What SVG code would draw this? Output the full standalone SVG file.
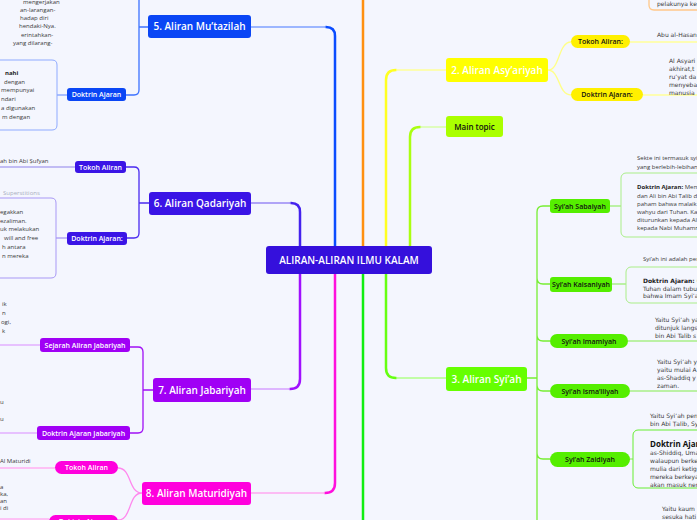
<svg xmlns="http://www.w3.org/2000/svg" width="697" height="520" viewBox="0 0 697 520">
<style>
.t{font-family:"Open Sans","Noto Sans",sans-serif;font-weight:600;fill:#fff;text-anchor:middle}
.h{font-size:10px}
.s{font-size:7px}
.k{fill:#111}
.b{font-family:"Open Sans","Noto Sans",sans-serif;font-size:6px;fill:#3a3a3a}
.v{font-family:"DejaVu Sans","Noto Sans",sans-serif;font-size:6px;fill:#3a3a3a}
.bb{font-weight:700;fill:#222}
.m{fill:none;stroke-width:2.5;stroke-linecap:round}
.c{fill:none;stroke-width:1.3}
.box{fill:none;stroke-width:1}
</style>
<rect width="697" height="520" fill="#f4f6fe"/>
<g id="connectors">
<path class="m" d="M300,246 V212 Q300,203 291,203" stroke="#4422ee"/>
<path class="c" d="M291,203 H251" stroke="#9a88f5"/>
<path class="m" d="M335,246 V36 Q335,27 326,27" stroke="#0a4cff"/>
<path class="c" d="M326,27 H251" stroke="#7fa0ff"/>
<path class="m" d="M363,246 V0" stroke="#ff9010"/>
<path class="m" d="M386,246 V80 Q386,70 396,70" stroke="#ffff22"/>
<path class="c" d="M396,70 H446" stroke="#ffff99"/>
<path class="m" d="M410,246 V137 Q410,127 420,127" stroke="#aaff11"/>
<path class="c" d="M420,127 H446" stroke="#d4ff99"/>
<path class="m" d="M300,274 V379 Q300,389 290,389" stroke="#a010ff"/>
<path class="c" d="M290,389 H251" stroke="#d7a0ff"/>
<path class="m" d="M335,274 V483 Q335,493 325,493" stroke="#ff10dd"/>
<path class="c" d="M325,493 H251" stroke="#ffa8f0"/>
<path class="m" d="M363,274 V520" stroke="#11ee11"/>
<path class="m" d="M386,274 V368 Q386,378 396,378" stroke="#66ff11"/>
<path class="c" d="M396,378 H446" stroke="#b0ff88"/>
<!-- node 5 children -->
<path class="c" d="M148,27 H139 M139,0 V90 Q139,95 134,95 H126" stroke="#3c72ff"/>
<path class="c" d="M67,95 H57" stroke="#7fa0ff"/>
<!-- node 6 -->
<path class="c" d="M149,203 H139 M126,167 H134 Q139,167 139,172 V233 Q139,238 134,238 H127" stroke="#4a2af0"/>
<path class="c" d="M75,167 H0" stroke="#b0a8f0"/>
<path class="c" d="M67,238 H56" stroke="#a898f5"/>
<!-- node 7 -->
<path class="c" d="M153,390 H143 M130,347 H138 Q143,347 143,352 V428 Q143,433 138,433 H130" stroke="#a010f5"/>
<path class="c" d="M40,345 H0 M37,433 H0" stroke="#e2b0ff"/>
<!-- node 8 -->
<path class="c" d="M142,493 C128,493 132,468 118,468 M142,493 C128,493 132,520 118,520" stroke="#ff88ee"/>
<path class="c" d="M55,468 H0 M49,519 H0" stroke="#ffb0f2"/>
<!-- node 2 -->
<path class="c" d="M548,70 C560,70 558,42 571,42 M548,70 C560,70 558,95 571,95" stroke="#ffff88"/>
<path class="c" d="M630,42 H697 M643,95 H697" stroke="#ffff99"/>
<!-- node 3 -->
<path class="c" d="M527,378 H537 M550,206 H543 Q537,206 537,212 V520 M537,278 Q537,284 543,284 H550 M537,335 Q537,341 543,341 H550 M537,385 Q537,391 543,391 H550 M537,453 Q537,459 543,459 H550" stroke="#77ee33"/>
<path class="c" d="M610,206 H621 M612,284 H626 M628,341 H697 M630,391 H697 M630,459 H633" stroke="#a8f088"/>
<path class="c" d="M649,0 V5 Q649,10 654,10 H697" stroke="#ffc88a"/>
</g>
<g id="n1text"><text class="v" x="657" y="6">pelakunya ke</text></g>
<g id="central"><rect x="266" y="246" width="166" height="28" rx="3" fill="#3510dc"/><text class="t h" x="349" y="263.5" font-weight="700">ALIRAN-ALIRAN ILMU KALAM</text></g>
<g id="n5"><rect x="148" y="15" width="103" height="23" rx="3" fill="#0a46f5"/><text class="t h" x="199.5" y="30">5. Aliran Mu’tazilah</text></g>
<g id="n5-doktrin"><rect x="67" y="88" width="59" height="13" rx="3" fill="#0a46f5"/><text class="t s" x="96.5" y="97">Doktrin Ajaran</text></g>
<g id="n5-text">
<text class="b" x="23" y="4">mengerjakan</text>
<text class="b" x="20" y="12">an-larangan-</text>
<text class="b" x="20" y="20">hadap diri</text>
<text class="b" x="19" y="28">hendaki-Nya.</text>
<text class="b" x="21" y="37">erintahkan-</text>
<text class="b" x="13" y="45">yang dilarang-</text>
</g>
<g id="n5-box">
<path class="box" d="M0,60 H52 Q57,60 57,65 V125 Q57,130 52,130 H0" stroke="#8eaaff"/>
<text class="b bb" x="5" y="75">nahi</text>
<text class="b" x="4" y="84">dengan</text>
<text class="b" x="1" y="92">mempunyai</text>
<text class="b" x="1" y="101">ndari</text>
<text class="b" x="1" y="110">a digunakan</text>
<text class="b" x="2" y="119">m dengan</text>
</g>
<g id="n6"><rect x="149" y="192" width="102" height="23" rx="3" fill="#3a14e6"/><text class="t h" x="200" y="207">6. Aliran Qadariyah</text></g>
<g id="n6-tokoh"><rect x="75" y="161" width="51" height="12" rx="3" fill="#3a14e6"/><text class="t s" x="100.5" y="169.5">Tokoh Aliran</text><text class="b" x="0" y="163">ah bin Abi Ṣufyan</text></g>
<g id="n6-doktrin"><rect x="67" y="232" width="60" height="13" rx="3" fill="#3a14e6"/><text class="t s" x="97" y="241">Doktrin Ajaran:</text></g>
<g id="n6-box">
<text class="b" x="3" y="195" fill="#aab0c0" style="fill:#a8aec0">Superstitions</text>
<path class="box" d="M0,198 H51 Q56,198 56,203 V273 Q56,278 51,278 H0" stroke="#a898f5"/>
<text class="b" x="0" y="214">egakkan</text>
<text class="b" x="0" y="223">ezaliman.</text>
<text class="b" x="0" y="231">uk melakukan</text>
<text class="b" x="4" y="240">will and free</text>
<text class="b" x="2" y="249">h antara</text>
<text class="b" x="2" y="258">n mereka</text>
</g>
<g id="n7"><rect x="153" y="378" width="98" height="24" rx="3" fill="#a000f5"/><text class="t h" x="202" y="393.5">7. Aliran Jabariyah</text></g>
<g id="n7-sejarah"><rect x="40" y="338" width="90" height="14" rx="3" fill="#a000f5"/><text class="t s" x="85" y="347.5">Sejarah Aliran Jabariyah</text>
<text class="b" x="2" y="306">ik</text><text class="b" x="2" y="315">n</text><text class="b" x="1" y="324">ogi,</text><text class="b" x="2" y="333">k</text></g>
<g id="n7-doktrin"><rect x="37" y="426" width="93" height="14" rx="3" fill="#a000f5"/><text class="t s" x="83.5" y="435.5">Doktrin Ajaran Jabariyah</text>
<text class="b" x="0" y="404">u</text><text class="b" x="0" y="421">u</text></g>
<g id="n8"><rect x="142" y="482" width="109" height="23" rx="3" fill="#ff00dd"/><text class="t h" x="196.5" y="497">8. Aliran Maturidiyah</text></g>
<g id="n8-tokoh"><rect x="55" y="461" width="63" height="13" rx="6.5" fill="#ff00dd"/><text class="t s" x="86.5" y="470">Tokoh Aliran</text><text class="b" x="0" y="463">Al Maturidi</text></g>
<g id="n8-doktrin"><rect x="49" y="515" width="69" height="13" rx="6.5" fill="#ff00dd"/><text class="t s" x="83.5" y="524">Doktrin Ajaran</text>
<text class="b" x="0" y="489">a</text><text class="b" x="0" y="496">ka,</text><text class="b" x="0" y="503">an</text><text class="b" x="0" y="510">i di</text></g>
<g id="n2"><rect x="446" y="58" width="102" height="24" rx="3" fill="#ffff00"/><text class="t h" x="497" y="73.5">2. Aliran Asy’ariyah</text></g>
<g id="n2-tokoh"><rect x="571" y="35" width="59" height="13" rx="6.5" fill="#fff000"/><text class="t s k" x="600.5" y="44">Tokoh Aliran:</text><text class="v" x="657" y="37">Abu al-Hasan</text></g>
<g id="n2-doktrin"><rect x="571" y="88" width="72" height="13" rx="6.5" fill="#fff000"/><text class="t s k" x="607" y="97">Doktrin Ajaran:</text>
<text class="v" x="669" y="63">Al Asyari</text><text class="v" x="669" y="71">akhirat,t</text><text class="v" x="669" y="79">ru’yat da</text><text class="v" x="669" y="87">menyeba</text><text class="v" x="669" y="95">manusia</text></g>
<g id="main-topic"><rect x="446" y="116" width="57" height="21" rx="3" fill="#aaff00"/><text class="t s k" x="474.5" y="129.5" font-weight="700" style="font-size:8px">Main topic</text></g>
<g id="n3"><rect x="446" y="367" width="81" height="24" rx="3" fill="#66ff00"/><text class="t h" x="486.5" y="382.5">3. Aliran Syi’ah</text></g>
<g id="sabaiyah"><rect x="550" y="199" width="60" height="14" rx="3" fill="#55ee00"/><text class="t s k" x="580" y="208.5">Syi’ah Sabaiyah</text>
<text class="b" x="637" y="160">Sekte ini termasuk syi</text><text class="b" x="637" y="169">yang berlebih-lebihan</text>
<rect class="box" x="621" y="173" width="90" height="64" rx="5" stroke="#aaee88"/>
<text class="b" x="637" y="189"><tspan class="bb">Doktrin Ajaran:</tspan> Mem</text>
<text class="b" x="637" y="198">dan Ali bin Abi Talib di</text>
<text class="b" x="637" y="206">paham bahwa malaik</text>
<text class="b" x="637" y="214">wahyu dari Tuhan. Ka</text>
<text class="b" x="637" y="222">diturunkan kepada Ali</text>
<text class="b" x="637" y="230">kepada Nabi Muhamr</text></g>
<g id="kaisaniyah"><rect x="550" y="277" width="62" height="15" rx="3" fill="#55ee00"/><text class="t s k" x="581" y="287">Syi’ah Kaisaniyah</text>
<text class="b" x="643" y="261">Syi’ah ini adalah per</text>
<rect class="box" x="626" y="267" width="90" height="36" rx="5" stroke="#aaee88"/>
<text class="v" x="643" y="283"><tspan class="bb">Doktrin Ajaran:</tspan> Gol</text>
<text class="v" x="643" y="291">Tuhan dalam tubuh A</text>
<text class="v" x="643" y="298">bahwa Imam Syi’ah</text></g>
<g id="imamiyah"><rect x="550" y="334" width="78" height="14" rx="7" fill="#55ee00"/><text class="t s k" x="589" y="343.5">Syi’ah Imamiyah</text>
<text class="v" x="655" y="322">Yaitu Syi’ah ya</text><text class="v" x="655" y="330">ditunjuk langs</text><text class="v" x="655" y="338">bin Abi Talib s</text></g>
<g id="ismailiyah"><rect x="550" y="384" width="80" height="14" rx="7" fill="#55ee00"/><text class="t s k" x="590" y="393.5">Syi’ah Isma’iliyah</text>
<text class="v" x="657" y="364">Yaitu Syi’ah y</text><text class="v" x="657" y="372">yaitu mulai A</text><text class="v" x="657" y="380">as-Shaddiq y</text><text class="v" x="657" y="388">zaman.</text></g>
<g id="zaidiyah"><rect x="550" y="452" width="80" height="15" rx="7.5" fill="#55ee00"/><text class="t s k" x="590" y="462">Syi’ah Zaidiyah</text>
<text class="v" x="650" y="418">Yaitu Syi’ah pen</text><text class="v" x="650" y="426">bin Abi Ṭalib, Sy</text>
<rect class="box" x="633" y="430" width="90" height="58" rx="5" stroke="#66ee33" stroke-width="1.2"/>
<text class="b bb" x="650" y="447" style="font-size:8px;fill:#111">Doktrin Ajaran</text>
<text class="v" x="650" y="455">as-Shiddiq, Uma</text>
<text class="v" x="650" y="463">walaupun berke</text>
<text class="v" x="650" y="471">mulia dari ketig</text>
<text class="v" x="650" y="479">mereka berkeya</text>
<text class="v" x="650" y="487">akan masuk ner</text></g>
<g id="syiah-last"><text class="v" x="662" y="511">Yaitu kaum</text><text class="v" x="662" y="519">sesuka hati</text></g>
</svg>
